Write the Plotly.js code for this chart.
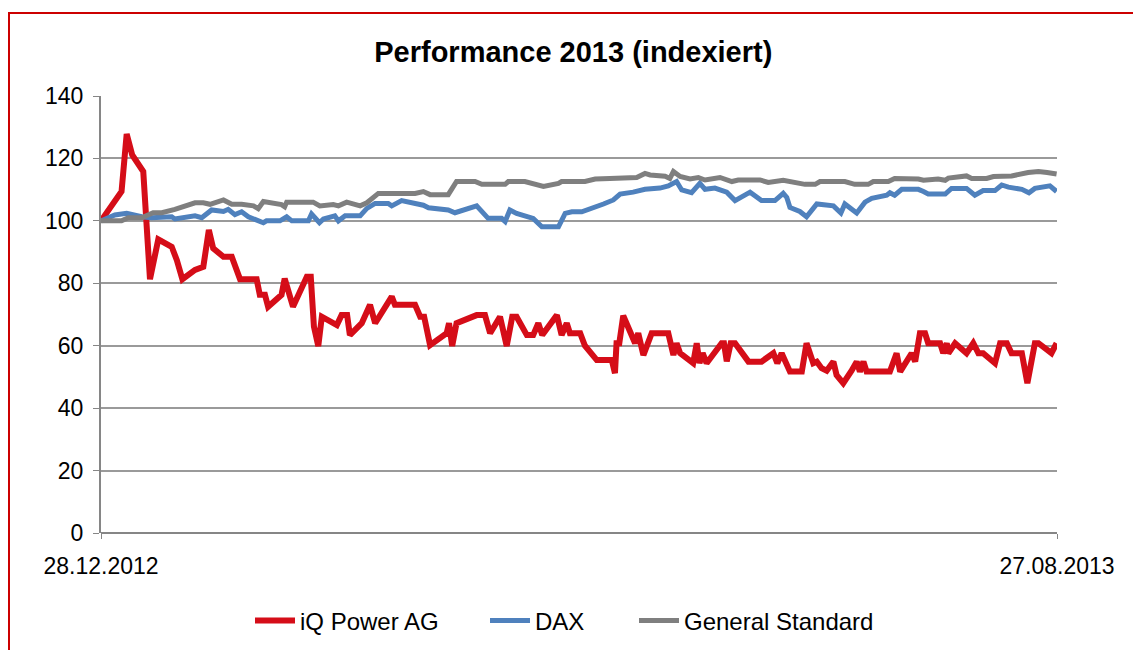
<!DOCTYPE html>
<html>
<head>
<meta charset="utf-8">
<script src="https://cdn.plot.ly/plotly-3.0.1.min.js"></script>
<style>
  html, body { margin: 0; padding: 0; background: #ffffff; overflow: hidden; }
  #chart { position: absolute; left: 0; top: 0; width: 1133px; height: 650px; }
  #frame { position: absolute; left: 8px; top: 12px; width: 1200px; height: 700px;
           border: 2px solid #cc0000; box-sizing: border-box; pointer-events: none; }
</style>
</head>
<body>
<div id="chart"></div>
<div id="frame"></div>
<script>
// Start date of the index (day 0) and axis end
const startDate = "2012-12-28";
const endDate = "2013-08-27";
const tickLabels = ["28.12.2012", "27.08.2013"];
const seriesNames = ["iQ Power AG", "DAX", "General Standard"];

// iQ Power AG: days since start, index value
const iqDays = [0,5.2,6.5,7.9,10.7,12.4,14.5,17.9,19.2,20.6,23.8,25.9,27.3,28.4,31.0,33.1,35.2,39.4,40.2,41.5,42.3,45.7,46.5,48.6,52.1,53.1,53.9,55.0,55.9,59.7,60.9,62.3,63.0,66.0,68.1,69.4,73.6,74.4,79.5,80.8,81.8,83.3,87.5,88.1,88.9,90.0,95.1,97.2,98.5,101.0,102.7,104.1,105.2,107.8,109.4,110.7,111.7,115.4,116.6,117.9,118.7,121.3,122.5,125.5,129.3,130.1,130.5,131.2,132.2,133.5,135.2,136.0,137.3,139.4,143.6,144.9,145.7,146.6,149.9,150.8,151.5,152.3,153.3,157.1,157.7,158.4,159.4,160.5,163.9,167.2,170.2,171.2,172.3,174.4,177.4,178.6,180.3,181.2,182.4,183.7,185.4,186.2,187.9,190.0,191.3,192.1,193.0,193.8,199.7,201.4,202.3,205.2,206.1,207.3,208.6,209.4,212.4,213.2,214.1,214.5,216.2,219.1,220.8,222.1,223.3,226.3,227.6,229.3,230.5,233.1,234.5,236.4,237.3,240.6,241.9];
const iqValues = [100,109.4,127.8,121.1,115.8,81.3,94.1,91.7,87.4,81.3,84.3,85.3,97.1,91.2,88.5,88.5,81.3,81.3,76.3,76.3,72.5,76.3,81.5,72.5,82.1,82.1,66.1,59.9,69.3,66.6,69.8,69.8,63.4,67.2,73.1,67.2,75.7,73.1,73.1,69.3,69.3,60.2,64.0,67.2,59.9,67.2,69.8,69.8,64.0,69.3,59.9,69.3,69.3,63.4,63.4,67.2,63.4,69.8,63.4,67.2,64.0,64.0,60.0,55.4,55.4,51.2,60.8,60.8,69.6,66.1,60.8,64.0,57.0,64.0,64.0,57.0,60.8,57.6,54.4,60.8,54.4,57.6,54.4,60.8,60.8,55.0,60.8,60.8,54.9,54.9,57.6,54.4,57.6,51.7,51.7,60.8,54.4,54.9,52.8,52.0,54.9,50.6,48.0,52.0,54.9,51.7,54.9,51.7,51.7,57.6,51.7,57.6,54.9,64.0,64.0,60.8,60.8,57.6,60.8,57.6,60.8,57.6,60.8,57.6,57.6,54.4,60.8,60.8,57.6,57.6,48.0,60.8,60.8,57.6,60.8];

// DAX
const daxDays = [0,3.5,6.5,10.3,12.8,15.4,17.9,18.7,21.3,23.8,25.5,28.0,31.0,32.2,33.9,35.6,37.3,39.0,41.1,41.9,45.3,47.0,48.3,52.5,53.3,55.3,56.3,59.2,60.1,61.8,65.6,67.3,69.4,72.7,73.6,76.1,79.5,81.6,82.9,87.9,89.6,95.1,98.0,101.4,102.3,103.5,105.2,109.4,111.6,115.8,117.5,119.2,121.7,125.1,127.2,129.7,131.4,134.7,137.7,141.5,143.6,145.7,147.0,149.5,151.6,152.9,155.4,158.4,160.5,164.3,166.4,167.2,170.6,172.7,173.6,174.4,176.9,178.6,181.2,185.4,187.3,188.3,191.3,193.4,195.1,198.9,199.7,200.9,202.7,206.9,208.2,209.4,213.7,215.3,219.1,221.2,223.3,226.3,228.0,229.7,233.1,234.9,236.4,240.2,241.9];
const daxValues = [100,101.9,102.4,101.3,101.0,101.3,101.3,100.6,101.3,101.6,101.0,103.5,103.0,103.7,102.0,102.9,101.3,100.6,99.4,100.0,100.0,101.3,100.0,100.0,102.2,99.4,100.6,101.6,100.0,101.6,101.6,104.0,105.6,105.6,104.8,106.5,105.6,105.0,104.2,103.5,102.6,104.8,100.8,100.8,99.8,103.5,102.4,100.8,98.1,98.1,102.4,102.9,102.9,104.3,105.4,106.7,108.6,109.2,110.1,110.5,111.2,112.6,109.9,109.0,112.0,110.1,110.5,109.2,106.5,109.2,107.2,106.5,106.5,108.8,107.5,104.3,103.0,101.3,105.4,104.8,102.5,105.4,102.5,106.0,107.2,108.2,109.0,108.2,110.1,110.1,109.4,108.6,108.6,110.4,110.4,108.2,109.7,109.7,111.5,110.8,110.1,109.0,110.4,111.2,109.4];

// General Standard
const gsDays = [0,5.2,6.9,10.3,13.2,15.4,18.7,21.3,23.8,25.9,27.6,31.0,33.1,35.6,38.6,39.8,41.1,45.7,46.5,47.0,53.7,55.4,58.8,60.1,62.2,65.6,67.3,70.2,73.6,74.9,77.4,79.5,81.6,83.3,87.9,90.0,94.7,96.4,102.3,103.1,107.3,112.0,115.8,116.6,122.5,125.1,128.8,135.6,137.7,139.0,142.8,144.0,144.9,146.6,149.1,151.2,152.9,156.7,159.7,161.3,166.8,168.9,172.7,174.0,178.2,180.8,182.0,188.3,190.8,194.2,195.5,199.3,200.9,206.9,208.2,211.9,213.7,214.5,219.1,220.4,224.2,225.9,230.5,234.7,237.3,239.5,241.9];
const gsValues = [100,100,101,101,102.6,102.6,103.7,104.8,105.8,105.8,105.3,106.7,105.3,105.3,104.8,103.9,106.2,105.2,104.5,106.0,106.0,104.8,105.2,104.8,106.0,104.8,105.8,108.8,108.8,108.4,108.8,108.8,109.4,108.4,108.4,112.6,112.6,111.7,111.7,112.6,112.6,111.0,112.0,112.6,112.6,113.4,113.6,113.9,115.2,114.7,114.3,113.6,115.8,114.2,113.4,113.9,113.1,113.9,112.6,113.1,113.1,112.3,113.0,112.6,111.7,111.7,112.6,112.6,111.7,111.7,112.6,112.6,113.6,113.4,113.0,113.4,113.0,113.7,114.4,113.6,113.6,114.2,114.4,115.5,115.8,115.5,115.0];

const colors = ["#d50d18", "#4f81bd", "#7f7f7f"];

function toDates(days) {
  const t0 = Date.parse(startDate + "T00:00:00Z");
  return days.map(d => new Date(t0 + d * 86400000).toISOString().replace("Z", ""));
}

const legendIds = ["legend", "legend2", "legend3"];
const traces = [
  {x: toDates(iqDays), y: iqValues, name: seriesNames[0]},
  {x: toDates(daxDays), y: daxValues, name: seriesNames[1]},
  {x: toDates(gsDays), y: gsValues, name: seriesNames[2]}
].map((t, i) => Object.assign(t, {
  type: "scatter", mode: "lines",
  line: {color: colors[i], width: i === 0 ? 6 : 5, shape: "linear"},
  legend: legendIds[i],
  hoverinfo: "skip"
}));

const font = "Liberation Sans, Arial, sans-serif";
function legendAt(x) {
  return {
    orientation: "h", x: x, xanchor: "left",
    yref: "container", y: 1 - 621 / 650, yanchor: "middle",
    font: {family: font, size: 24, color: "#000000"},
    bgcolor: "rgba(0,0,0,0)", itemwidth: 40
  };
}
const layout = {
  width: 1133, height: 650,
  margin: {l: 101, r: 76, t: 96, b: 117, autoexpand: false},
  paper_bgcolor: "#ffffff", plot_bgcolor: "#ffffff",
  showlegend: true,
  title: {text: "<b>Performance 2013 (indexiert)</b>", x: 0.506, xanchor: "center", y: 0.92, yanchor: "middle",
          font: {family: font, size: 29, color: "#000000"}},
  xaxis: {
    type: "date",
    range: [startDate, endDate],
    tickvals: [startDate, endDate],
    ticktext: tickLabels,
    showgrid: false, zeroline: false,
    showline: false,
    ticks: "outside", ticklen: 5, tickcolor: "#868686", tickwidth: 1,
    tickfont: {family: font, size: 23, color: "#000000"},
    ticklabelstandoff: 7
  },
  yaxis: {
    range: [0, 140], dtick: 20, tick0: 0,
    showgrid: true, gridcolor: "#9a9a9a", gridwidth: 2,
    zeroline: true, zerolinecolor: "#868686", zerolinewidth: 2,
    showline: true, linecolor: "#868686", linewidth: 2,
    ticks: "outside", ticklen: 6, tickcolor: "#868686", tickwidth: 1,
    tickfont: {family: font, size: 23, color: "#000000"},
    ticklabelstandoff: 5
  },
  legend: legendAt((250 - 101) / 956),
  legend2: legendAt((485 - 101) / 956),
  legend3: legendAt((634 - 101) / 956)
};

Plotly.newPlot("chart", traces, layout, {displayModeBar: false, staticPlot: true});
</script>
</body>
</html>
